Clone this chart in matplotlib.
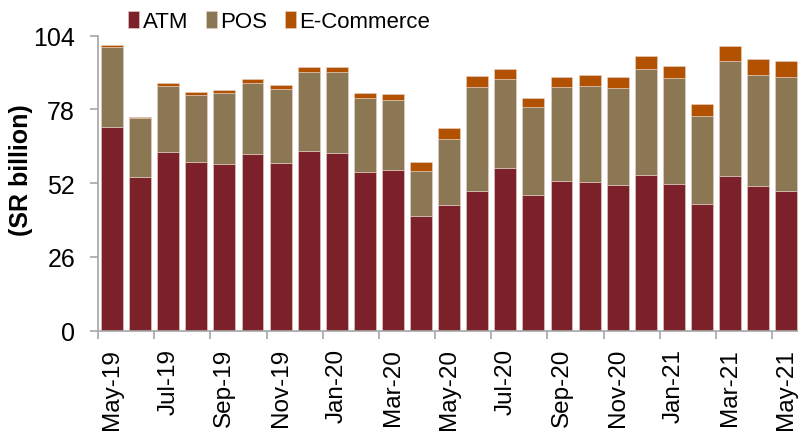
import numpy as np
import matplotlib
matplotlib.use("Agg")
import matplotlib.pyplot as plt

plt.rcParams['font.family'] = ['Liberation Sans', 'DejaVu Sans']

# monthly card transaction values, SR billion
months = ['May-19', 'Jun-19', 'Jul-19', 'Aug-19', 'Sep-19', 'Oct-19', 'Nov-19', 'Dec-19',
          'Jan-20', 'Feb-20', 'Mar-20', 'Apr-20', 'May-20', 'Jun-20', 'Jul-20', 'Aug-20',
          'Sep-20', 'Oct-20', 'Nov-20', 'Dec-20', 'Jan-21', 'Feb-21', 'Mar-21', 'Apr-21', 'May-21']
atm = [71.9, 54.2, 62.9, 59.3, 58.7, 62.3, 59.1, 63.3, 62.6, 55.9, 56.6, 40.3, 44.2,
       49.1, 57.5, 47.8, 52.8, 52.5, 51.4, 54.8, 51.7, 44.8, 54.5, 51.1, 49.4]
pos = [28.0, 20.7, 23.4, 23.8, 25.2, 25.1, 26.2, 28.0, 28.5, 26.2, 24.8, 16.1, 23.5,
       36.9, 31.4, 31.2, 33.2, 33.8, 34.2, 37.5, 37.4, 31.0, 40.7, 39.1, 40.1]
ecom = [0.7, 0.6, 1.2, 1.2, 1.1, 1.5, 1.4, 1.8, 1.9, 1.8, 1.9, 3.2, 3.7,
        3.8, 3.5, 3.2, 3.6, 3.7, 4.0, 4.6, 4.2, 4.2, 5.3, 5.6, 5.6]

c_atm = '#7C2129'
c_pos = '#8C7755'
c_ecom = '#B25200'
grey = '#A6A6A6'

fig = plt.figure(figsize=(7.98, 4.39), dpi=100)
ax = fig.add_axes([0.1228, 0.2444, 0.880, 0.672])

x = np.arange(len(months))
atm = np.array(atm)
pos = np.array(pos)
ecom = np.array(ecom)
w = 0.78
edge = dict(edgecolor='#E6D2C8', linewidth=0.4)
ax.bar(x, atm, w, color=c_atm, label='ATM', **edge)
ax.bar(x, pos, w, bottom=atm, color=c_pos, label='POS', **edge)
ax.bar(x, ecom, w, bottom=atm + pos, color=c_ecom, label='E-Commerce', **edge)

ax.set_xlim(-0.5, len(months) - 0.5)
ax.set_ylim(0, 104)
ax.set_yticks([0, 26, 52, 78, 104])

# tick marks between every second month, labels under every second bar
ax.set_xticks(np.arange(-0.5, len(months) - 1, 2))
ax.set_xticklabels([])
ax.set_xticks(x[::2], minor=True)
ax.set_xticklabels(months[::2], minor=True, rotation=90, fontsize=17.5)
ax.tick_params(axis='x', which='major', length=6, width=1.2, color=grey)
ax.tick_params(axis='x', which='minor', length=0, pad=12.5)
ax.tick_params(axis='y', length=5.5, width=1.2, color=grey, labelsize=18, pad=11)

for s in ['top', 'right']:
    ax.spines[s].set_visible(False)
for s in ['left', 'bottom']:
    ax.spines[s].set_color(grey)
    ax.spines[s].set_linewidth(1.2)

ax.set_ylabel('(SR billion)', fontsize=18, fontweight='bold')
ax.yaxis.set_label_coords(-0.093, 0.548)

ax.legend(loc='center', bbox_to_anchor=(0.35, 0.948), bbox_transform=fig.transFigure,
          ncol=3, frameon=False, fontsize=16,
          handlelength=0.5, handleheight=0.8, handletextpad=0.15,
          columnspacing=0.8, borderaxespad=0)

fig.savefig('out.png', dpi=100)
